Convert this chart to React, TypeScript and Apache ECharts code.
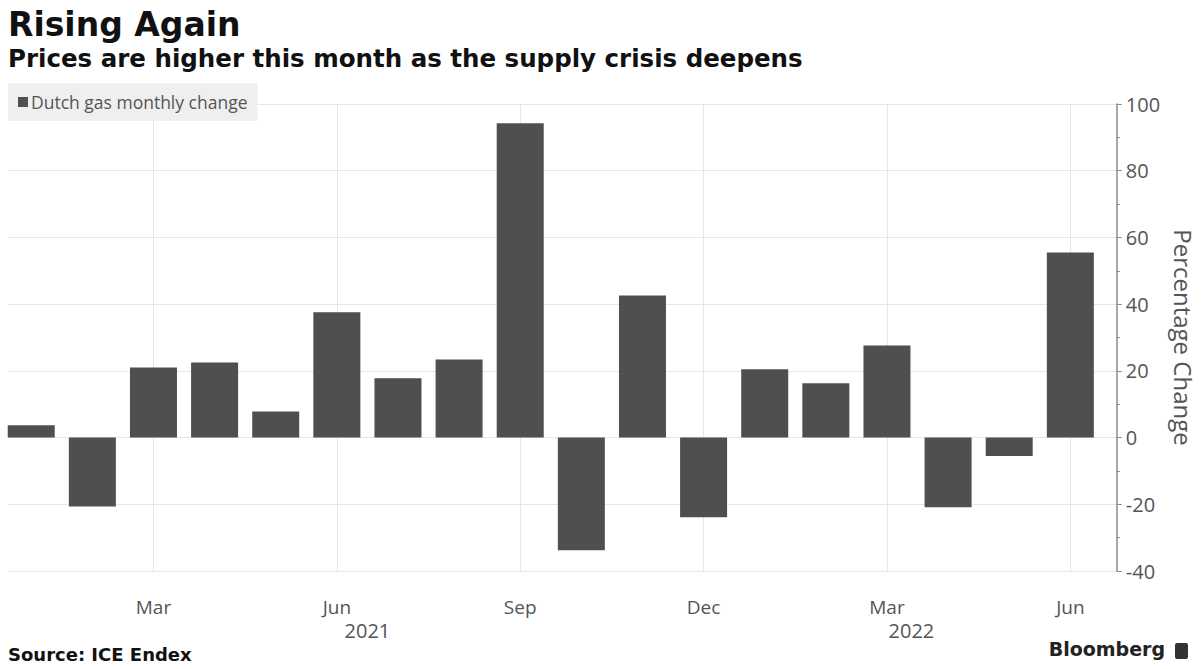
import React, { useEffect, useRef } from "react";
import * as echarts from "echarts";

const monthLabels = ["Jan", "Feb", "Mar", "Apr", "May", "Jun", "Jul", "Aug", "Sep", "Oct", "Nov", "Dec", "Jan", "Feb", "Mar", "Apr", "May", "Jun"];
const changeValues = [3.7, -20.7, 21.0, 22.5, 7.8, 37.6, 17.8, 23.4, 94.2, -33.8, 42.6, -23.9, 20.5, 16.3, 27.6, -20.9, -5.5, 55.5];
const labeledMonthIdx = [2, 5, 8, 11, 14, 17];
const yearLabels = ["2021", "2022"];
const yearLabelPos = [5.5, 14.4];
const yTicks = { min: -40, max: 100, interval: 20 };

const TITLE = "Rising Again";
const SUBTITLE = "Prices are higher this month as the supply crisis deepens";
const SERIES_NAME = "Dutch gas monthly change";
const SOURCE = "Source: ICE Endex";

export default function App() {
  const ref = useRef<HTMLDivElement>(null);
  useEffect(() => {
    if (!ref.current) return;
    const chart = echarts.init(ref.current, null, { renderer: "svg" });
    const labelFont = "'Open Sans', 'Noto Sans', sans-serif";
    const boldFont = "'DejaVu Sans', sans-serif";
    const gridColor = "#e6e6e6";
    const option: any = {
      animation: false,
      backgroundColor: "#ffffff",
      textStyle: { fontFamily: labelFont },
      grid: { left: 8, right: 85, top: 104, bottom: 98, containLabel: false },
      legend: {
        left: 8,
        top: 83,
        padding: [10, 10, 10, 10],
        backgroundColor: "#efefef",
        icon: "rect",
        itemWidth: 10,
        itemHeight: 10,
        itemGap: 4,
        textStyle: { color: "#555", fontSize: 17.5, fontFamily: labelFont, padding: [0, 0, 0, -2] },
        data: [SERIES_NAME],
        selectedMode: false,
      },
      xAxis: [
        {
          type: "value",
          min: -0.38,
          max: 17.76,
          axisLine: { show: false },
          axisTick: { show: false },
          splitLine: { show: false },
          axisLabel: {
            customValues: labeledMonthIdx,
            formatter: (v: number) => monthLabels[Math.round(v)] ?? "",
            color: "#555",
            fontSize: 19,
            lineHeight: 19,
            fontFamily: labelFont,
            margin: 26,
          },
        },
        {
          type: "value",
          position: "bottom",
          min: -0.38,
          max: 17.76,
          axisLine: { show: false },
          axisTick: { show: false },
          splitLine: { show: false },
          axisLabel: {
            customValues: yearLabelPos,
            formatter: (v: number) => yearLabels[yearLabelPos.indexOf(v)] ?? "",
            color: "#555",
            fontSize: 20,
            lineHeight: 20,
            fontFamily: labelFont,
            margin: 49,
          },
        },
      ],
      yAxis: {
        type: "value",
        position: "right",
        min: yTicks.min,
        max: yTicks.max,
        interval: yTicks.interval,
        name: "Percentage Change",
        nameLocation: "middle",
        nameRotate: -90,
        nameGap: 46,
        nameTextStyle: { color: "#555", fontSize: 24, fontFamily: labelFont },
        axisLine: { show: true, onZero: false, lineStyle: { color: "#8a8a8a", width: 1.5 } },
        axisTick: { show: true, length: 5, lineStyle: { color: "#8a8a8a" } },
        minorTick: { show: true, splitNumber: 2, length: 3, lineStyle: { color: "#8a8a8a" } },
        axisLabel: { color: "#555", fontSize: 20, fontFamily: labelFont, margin: 9 },
        splitLine: { show: true, lineStyle: { color: gridColor, width: 1 } },
      },
      series: [
        {
          name: SERIES_NAME,
          type: "bar",
          xAxisIndex: 0,
          barWidth: 47,
          itemStyle: { color: "#4f4f4f" },
          data: changeValues.map((v, i) => [i, v]),
          markLine: {
            silent: true,
            symbol: "none",
            z: 1,
            label: { show: false },
            lineStyle: { color: gridColor, type: "solid", width: 1 },
            data: labeledMonthIdx.map((i) => ({ xAxis: i })),
          },
        },
      ],
      graphic: [
        {
          type: "text",
          left: 8,
          top: 8,
          style: { text: TITLE, fill: "#111", font: `bold 33px ${boldFont}` },
        },
        {
          type: "text",
          left: 8,
          top: 46,
          style: { text: SUBTITLE, fill: "#111", font: `bold 24.5px ${boldFont}` },
        },
        {
          type: "text",
          left: 8,
          top: 645,
          style: { text: SOURCE, fill: "#111", font: `bold 18px ${boldFont}` },
        },
        {
          type: "text",
          right: 38,
          top: 639,
          style: { text: "Bloomberg", fill: "#222", font: `bold 19px ${boldFont}` },
        },
        {
          type: "rect",
          right: 15,
          top: 643,
          shape: { width: 13, height: 16, r: 2 },
          style: { fill: "#333" },
        },
      ],
    };
    chart.setOption(option);
    return () => chart.dispose();
  }, []);
  return (
    <div
      ref={ref}
      style={{ position: "absolute", left: 0, top: 0, width: 1203, height: 669 }}
    />
  );
}
